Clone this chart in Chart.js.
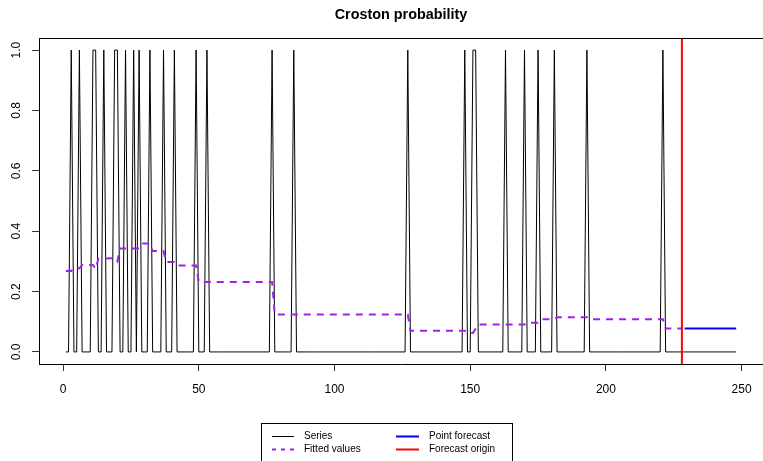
<!DOCTYPE html>
<html>
<head>
<meta charset="utf-8">
<script src="https://cdn.jsdelivr.net/npm/chart.js@4.4.1/dist/chart.umd.min.js"></script>
<style>
  html, body { margin: 0; padding: 0; background: #fff; }
  #wrap { width: 763px; height: 461px; }
</style>
</head>
<body>
<div id="wrap"><canvas id="crostonChart" width="763" height="461"></canvas></div>
<script>
const titleText = 'Croston probability';

// occurrence series, t = 1..248
const seriesValues = [
  0, 0, 1, 0, 0, 1, 0, 0, 0, 0,
  1, 1, 0, 0, 1, 0, 0, 0, 1, 1,
  0, 0, 1, 0, 0, 1, 0, 1, 0, 0,
  0, 1, 0, 0, 0, 0, 1, 0, 0, 0,
  1, 0, 0, 0, 0, 0, 0, 0, 1, 0,
  0, 0, 1, 0, 0, 0, 0, 0, 0, 0,
  0, 0, 0, 0, 0, 0, 0, 0, 0, 0,
  0, 0, 0, 0, 0, 0, 1, 0, 0, 0,
  0, 0, 0, 0, 1, 0, 0, 0, 0, 0,
  0, 0, 0, 0, 0, 0, 0, 0, 0, 0,
  0, 0, 0, 0, 0, 0, 0, 0, 0, 0,
  0, 0, 0, 0, 0, 0, 0, 0, 0, 0,
  0, 0, 0, 0, 0, 0, 1, 0, 0, 0,
  0, 0, 0, 0, 0, 0, 0, 0, 0, 0,
  0, 0, 0, 0, 0, 0, 0, 1, 0, 0,
  1, 1, 0, 0, 0, 0, 0, 0, 0, 0,
  0, 0, 1, 0, 0, 0, 0, 0, 0, 1,
  0, 0, 0, 0, 1, 0, 0, 0, 0, 0,
  1, 0, 0, 0, 0, 0, 0, 0, 0, 0,
  0, 0, 1, 0, 0, 0, 0, 0, 0, 0,
  0, 0, 0, 0, 0, 0, 0, 0, 0, 0,
  0, 0, 0, 0, 0, 0, 0, 0, 0, 0,
  1, 0, 0, 0, 0, 0, 0, 0, 0, 0,
  0, 0, 0, 0, 0, 0, 0, 0, 0, 0,
  0, 0, 0, 0, 0, 0, 0, 0
];

// fitted probability, vertices of the polyline (flat between changes)
const fittedX = [1, 3, 4, 6, 7, 11, 12, 13, 19, 20, 21, 28, 29, 32, 33, 37, 38, 41, 42, 49, 50, 77, 78,
  127, 128, 148, 149, 151, 152, 153, 170, 171, 175, 176, 181, 182, 193, 194, 221, 222, 228];
const fittedY = [0.268, 0.268, 0.277, 0.277, 0.288, 0.288, 0.275, 0.309, 0.311, 0.300, 0.343, 0.343, 0.359, 0.359,
  0.334, 0.334, 0.298, 0.298, 0.286, 0.286, 0.232, 0.232, 0.124, 0.124, 0.070, 0.070, 0.063, 0.063, 0.077,
  0.091, 0.091, 0.097, 0.097, 0.108, 0.108, 0.115, 0.115, 0.108, 0.108, 0.078, 0.078];

// point forecast t = 229..248
const forecastStart = 229;
const forecastValues = [0.078, 0.078, 0.078, 0.078, 0.078, 0.078, 0.078, 0.078, 0.078, 0.078,
  0.078, 0.078, 0.078, 0.078, 0.078, 0.078, 0.078, 0.078, 0.078, 0.078];

const originX = 228;

const xTicks = [0, 50, 100, 150, 200, 250];
const yTicks = [0, 0.2, 0.4, 0.6, 0.8, 1.0];

const legendLeft = [
  { label: 'Series', color: '#000000', dash: [], width: 1 },
  { label: 'Fitted values', color: '#A020F0', dash: [4, 5], width: 2 }
];
const legendRight = [
  { label: 'Point forecast', color: '#0000FF', dash: [], width: 2 },
  { label: 'Forecast origin', color: '#FF0000', dash: [], width: 2 }
];

const FONT = '"Liberation Sans", Arial, sans-serif';

const rPlot = {
  id: 'rPlot',
  afterDraw(chart) {
    const ctx = chart.ctx;
    const a = chart.chartArea;
    const y = chart.scales.y;
    ctx.save();
    // top and right edge of the box
    ctx.strokeStyle = '#000';
    ctx.lineWidth = 1;
    ctx.beginPath();
    ctx.moveTo(a.left, a.top + 0.5);
    ctx.lineTo(a.right, a.top + 0.5);
    ctx.stroke();

    // title
    ctx.fillStyle = '#000';
    ctx.font = 'bold 14.4px ' + FONT;
    ctx.textAlign = 'center';
    ctx.textBaseline = 'middle';
    ctx.fillText(titleText, (a.left + a.right) / 2, 15);

    // y tick labels, rotated like R
    ctx.font = '12px ' + FONT;
    yTicks.forEach(v => {
      ctx.save();
      ctx.translate(17, y.getPixelForValue(v));
      ctx.rotate(-Math.PI / 2);
      ctx.fillText(v.toFixed(1), 0, 0);
      ctx.restore();
    });

    // legend
    ctx.strokeStyle = '#000';
    ctx.lineWidth = 1;
    ctx.strokeRect(261.5, 423.5, 251, 50);
    ctx.font = '10px ' + FONT;
    ctx.textAlign = 'left';
    const rows = [436.5, 449.5];
    const cols = [{ l: 272, r: 294, t: 304, items: legendLeft }, { l: 396, r: 419, t: 429, items: legendRight }];
    cols.forEach(c => {
      c.items.forEach((it, i) => {
        ctx.beginPath();
        ctx.setLineDash(it.dash);
        ctx.strokeStyle = it.color;
        ctx.lineWidth = it.width;
        ctx.moveTo(c.l, rows[i]);
        ctx.lineTo(c.r, rows[i]);
        ctx.stroke();
        ctx.setLineDash([]);
        ctx.fillStyle = '#000';
        ctx.fillText(it.label, c.t, rows[i]);
      });
    });
    ctx.restore();
  }
};

let ctx = document.getElementById('crostonChart').getContext('2d');
let crostonChart = new Chart(ctx, {
  type: 'line',
  data: {
    datasets: [
      {
        label: 'Forecast origin',
        data: [{ x: originX, y: -0.04 }, { x: originX, y: 1.04 }],
        borderColor: '#FF0000',
        borderWidth: 2,
        pointRadius: 0,
        order: 0,
      },
      {
        label: 'Point forecast',
        data: forecastValues.map((v, i) => ({ x: forecastStart + i, y: v })),
        borderColor: '#0000FF',
        borderWidth: 2,
        pointRadius: 0,
        order: 1,
      },
      {
        label: 'Fitted values',
        data: fittedX.map((x, i) => ({ x: x, y: fittedY[i] })),
        borderColor: '#A020F0',
        borderWidth: 2,
        borderDash: [7, 6],
        pointRadius: 0,
        order: 2,
      },
      {
        label: 'Series',
        data: seriesValues.map((v, i) => ({ x: i + 1, y: v })),
        borderColor: '#000000',
        borderWidth: 1,
        pointRadius: 0,
        order: 3,
      },
    ],
  },
  options: {
    responsive: false,
    animation: false,
    devicePixelRatio: 1,
    layout: { padding: { top: 38, right: 0, bottom: 0, left: 0 } },
    plugins: {
      legend: { display: false },
      title: { display: false },
      tooltip: { enabled: false },
    },
    elements: { line: { tension: 0 } },
    scales: {
      x: {
        type: 'linear',
        min: -8.88,
        max: 257.88,
        afterBuildTicks: s => { s.ticks = xTicks.map(v => ({ value: v })); },
        afterFit: s => { s.height = 97; },
        grid: { display: true, drawOnChartArea: false, drawTicks: true, tickLength: 7, color: '#333' },
        border: { display: true, color: '#000', width: 1 },
        ticks: { color: '#000', font: { family: FONT, size: 12 }, padding: 11, maxRotation: 0, autoSkip: false },
      },
      y: {
        type: 'linear',
        min: -0.04,
        max: 1.04,
        afterBuildTicks: s => { s.ticks = yTicks.map(v => ({ value: v })); },
        afterFit: s => { s.width = 39; },
        grid: { display: true, drawOnChartArea: false, drawTicks: true, tickLength: 7, color: '#333' },
        border: { display: true, color: '#000', width: 1 },
        ticks: { display: false },
      },
    },
  },
  plugins: [rPlot],
});
</script>
</body>
</html>
